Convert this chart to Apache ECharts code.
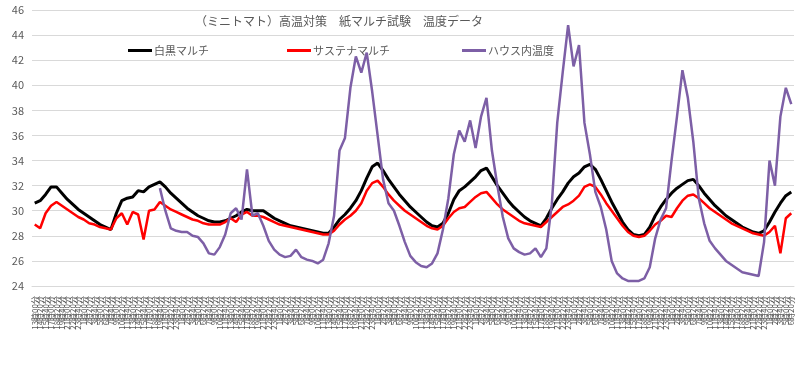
<!DOCTYPE html>
<html><head><meta charset="utf-8">
<script src="https://cdn.jsdelivr.net/npm/echarts@6/dist/echarts.min.js"></script>
<style>html,body{margin:0;padding:0;background:#fff}#c{width:800px;height:370px}</style>
</head><body><div id="c"></div>
<script>
const titleText = '（ミニトマト）高温対策　紙マルチ試験　温度データ';
const seriesNames = ['白黒マルチ', 'サステナマルチ', 'ハウス内温度'];
const yTicks = {min: 24, max: 46, step: 2};
// time labels: start 13:00, every 80 minutes
const startMinutes = 13 * 60;
const stepMinutes = 80;
const labelCount = 140;
const categories = [];
for (let i = 0; i < labelCount; i++) {
  const t = (startMinutes + i * stepMinutes) % 1440;
  const h = Math.floor(t / 60), m = t % 60;
  categories.push(h + '時' + String(m).padStart(2, '0') + '分');
}
const blackMulch = [
30.6,30.8,31.3,31.9,31.9,31.4,30.9,30.5,30.1,29.8,
29.5,29.2,28.9,28.7,28.5,29.8,30.8,31.0,31.1,31.6,
31.5,31.9,32.1,32.3,31.9,31.4,31.0,30.6,30.2,29.9,
29.6,29.4,29.2,29.1,29.1,29.2,29.4,29.6,29.9,30.1,
30.0,30.0,30.0,29.7,29.4,29.2,29.0,28.8,28.7,28.6,
28.5,28.4,28.3,28.2,28.2,28.7,29.3,29.7,30.2,30.8,
31.6,32.6,33.5,33.8,33.2,32.5,31.9,31.3,30.8,30.3,
29.9,29.5,29.1,28.8,28.7,29.0,29.8,30.9,31.6,31.9,
32.3,32.7,33.2,33.4,32.7,32.0,31.4,30.8,30.3,29.9,
29.5,29.2,29.0,28.8,29.4,30.2,30.9,31.5,32.2,32.7,
33.0,33.5,33.7,33.3,32.5,31.6,30.7,29.9,29.1,28.5,
28.1,28.0,28.1,28.7,29.6,30.3,30.9,31.4,31.8,32.1,
32.4,32.5,32.0,31.4,30.9,30.4,30.0,29.6,29.3,29.0,
28.7,28.5,28.3,28.2,28.4,29.1,29.9,30.6,31.2,31.5];
const sustainaMulch = [
28.9,28.6,29.8,30.4,30.7,30.4,30.1,29.8,29.5,29.3,
29.0,28.9,28.7,28.6,28.5,29.4,29.8,28.9,29.9,29.7,
27.7,30.0,30.1,30.7,30.4,30.1,29.9,29.7,29.5,29.3,
29.2,29.0,28.9,28.9,28.9,29.1,29.4,29.1,29.7,29.9,
29.6,29.6,29.5,29.3,29.1,28.9,28.8,28.7,28.6,28.5,
28.4,28.3,28.2,28.1,28.1,28.4,28.9,29.3,29.6,30.0,
30.6,31.6,32.2,32.4,31.9,31.3,30.8,30.4,30.0,29.7,
29.4,29.1,28.8,28.6,28.5,28.8,29.4,29.9,30.2,30.3,
30.7,31.1,31.4,31.5,31.0,30.5,30.1,29.8,29.5,29.2,
29.0,28.9,28.8,28.7,29.1,29.5,29.9,30.3,30.5,30.8,
31.2,31.9,32.1,31.9,31.3,30.6,30.0,29.4,28.8,28.3,
28.0,27.9,28.0,28.4,28.9,29.2,29.6,29.5,30.2,30.8,
31.2,31.3,31.0,30.6,30.2,29.9,29.6,29.3,29.0,28.8,
28.6,28.4,28.2,28.1,28.0,28.3,28.8,26.6,29.4,29.8];
const houseTemp = [
null,null,null,null,null,null,null,null,null,null,
null,null,null,null,null,null,null,null,null,null,
null,null,null,31.8,30.0,28.6,28.4,28.3,28.3,28.0,
27.9,27.4,26.6,26.5,27.1,28.1,29.8,30.2,29.3,33.3,
29.6,29.8,28.8,27.6,26.9,26.5,26.3,26.4,26.9,26.3,
26.1,26.0,25.8,26.1,27.4,29.6,34.8,35.8,39.8,42.3,
41.0,42.6,39.5,36.0,32.5,30.6,30.0,28.8,27.5,26.4,
25.9,25.6,25.5,25.8,26.6,28.5,31.0,34.5,36.4,35.5,
37.2,35.0,37.5,39.0,34.8,32.0,29.5,27.8,27.0,26.7,
26.5,26.6,27.0,26.3,27.0,30.5,37.0,41.0,44.8,41.5,
43.2,37.0,34.5,31.5,30.3,28.5,26.0,25.0,24.6,24.4,
24.4,24.4,24.6,25.5,27.8,29.3,30.2,34.0,37.5,41.2,
39.0,35.5,31.0,29.0,27.6,27.0,26.5,26.0,25.7,25.4,
25.1,25.0,24.9,24.8,27.5,34.0,32.0,37.5,39.8,38.5];
const colors = ['#000000', '#ff0000', '#7d5fa6'];
const widths = [3, 2.5, 2.5];
const values = [blackMulch, sustainaMulch, houseTemp];
const legendLefts = [123, 282, 457];

const chart = echarts.init(document.getElementById('c'), null, {renderer: 'canvas'});
const FONT = '"Noto Sans CJK JP", "Noto Sans", sans-serif';
chart.setOption({
  animation: false,
  textStyle: {fontFamily: FONT},
  title: {text: titleText, left: 190, top: 10,
    textStyle: {fontSize: 12, fontWeight: 'normal', color: '#595959', fontFamily: FONT}},
  legend: seriesNames.map((n, i) => ({
    data: [n], left: legendLefts[i], top: 40, icon: 'rect', itemWidth: 24, itemHeight: 3,
    itemGap: 0, textStyle: {fontSize: 11, color: '#595959', fontFamily: FONT, padding: [0,0,0,-3]}
  })),
  grid: {left: 32, right: 6, top: 10, bottom: 84, containLabel: false},
  xAxis: {
    type: 'category', data: categories, boundaryGap: true,
    axisLine: {lineStyle: {color: '#d9d9d9'}}, axisTick: {show: false},
    axisLabel: {interval: 0, rotate: 90, fontSize: 8, color: '#595959', margin: 10, fontFamily: FONT}
  },
  yAxis: {
    type: 'value', min: yTicks.min, max: yTicks.max, interval: yTicks.step,
    axisLine: {show: false}, axisTick: {show: false},
    axisLabel: {fontSize: 11, color: '#595959', margin: 8, fontFamily: FONT},
    splitLine: {lineStyle: {color: '#d9d9d9'}}
  },
  series: seriesNames.map((n, i) => ({
    name: n, type: 'line', data: values[i], showSymbol: false, symbol: 'none',
    connectNulls: false, color: colors[i],
    lineStyle: {color: colors[i], width: widths[i]}, z: 2 + i
  }))
});
</script></body></html>
